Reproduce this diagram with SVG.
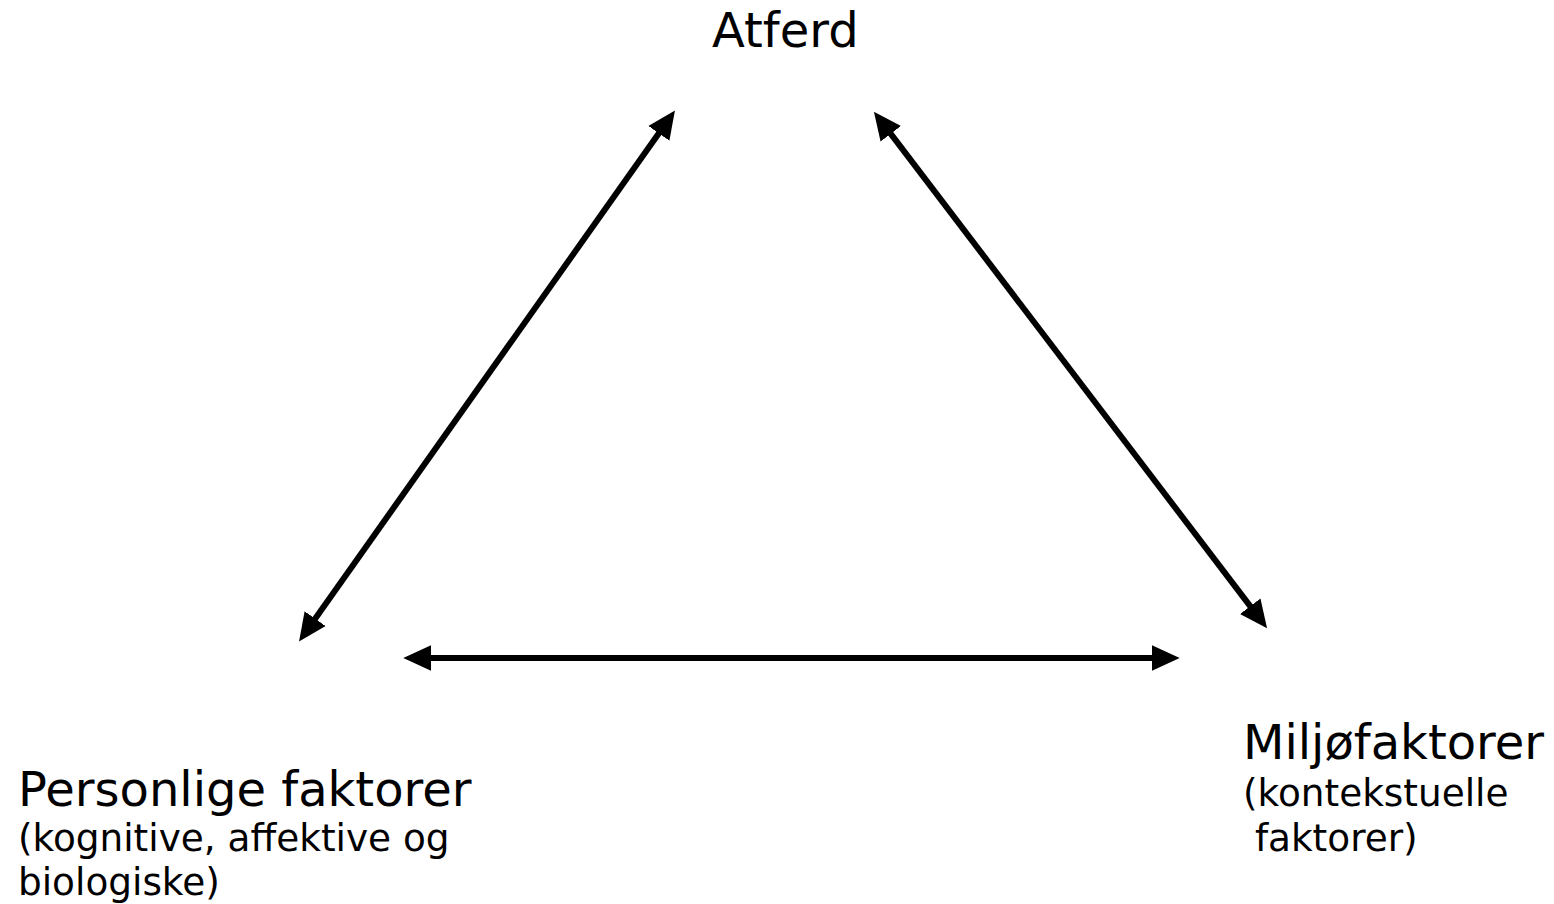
<svg xmlns="http://www.w3.org/2000/svg" width="1554" height="904" viewBox="0 0 1554 904">
<style>
.lbl{font-family:"DejaVu Sans",Verdana,sans-serif;fill:#000}
.big{font-size:48px}
.small{font-size:37.4px}
.conn{stroke:#000;stroke-width:6;fill:none}
</style>
<defs>
<marker id="ah" markerUnits="userSpaceOnUse" markerWidth="30" markerHeight="30" viewBox="0 -13 28 26" refX="2" refY="0" orient="auto-start-reverse">
<path d="M0,-12 L26,0 L0,12 z" fill="#000"/>
</marker>
</defs>
<rect width="1554" height="904" fill="#fff"/>
<g id="connectors">
<line class="conn" x1="313.9" y1="620.4" x2="660.1" y2="131.6" marker-start="url(#ah)" marker-end="url(#ah)"/>
<line class="conn" x1="889.5" y1="132.1" x2="1251.5" y2="607.9" marker-start="url(#ah)" marker-end="url(#ah)"/>
<line class="conn" x1="429" y1="658" x2="1154" y2="658" marker-start="url(#ah)" marker-end="url(#ah)"/>
</g>
<g id="atferd">
<text class="lbl big" x="712" y="47">Atferd</text>
</g>
<g id="personlige">
<text class="lbl big" x="18" y="806">Personlige faktorer</text>
<text class="lbl small" x="18" y="851">(kognitive, affektive og</text>
<text class="lbl small" x="18" y="895">biologiske)</text>
</g>
<g id="miljo">
<text class="lbl big" x="1243" y="759">Miljøfaktorer</text>
<text class="lbl small" x="1243" y="806">(kontekstuelle</text>
<text class="lbl small" x="1243" y="851" xml:space="preserve"> faktorer)</text>
</g>
</svg>
